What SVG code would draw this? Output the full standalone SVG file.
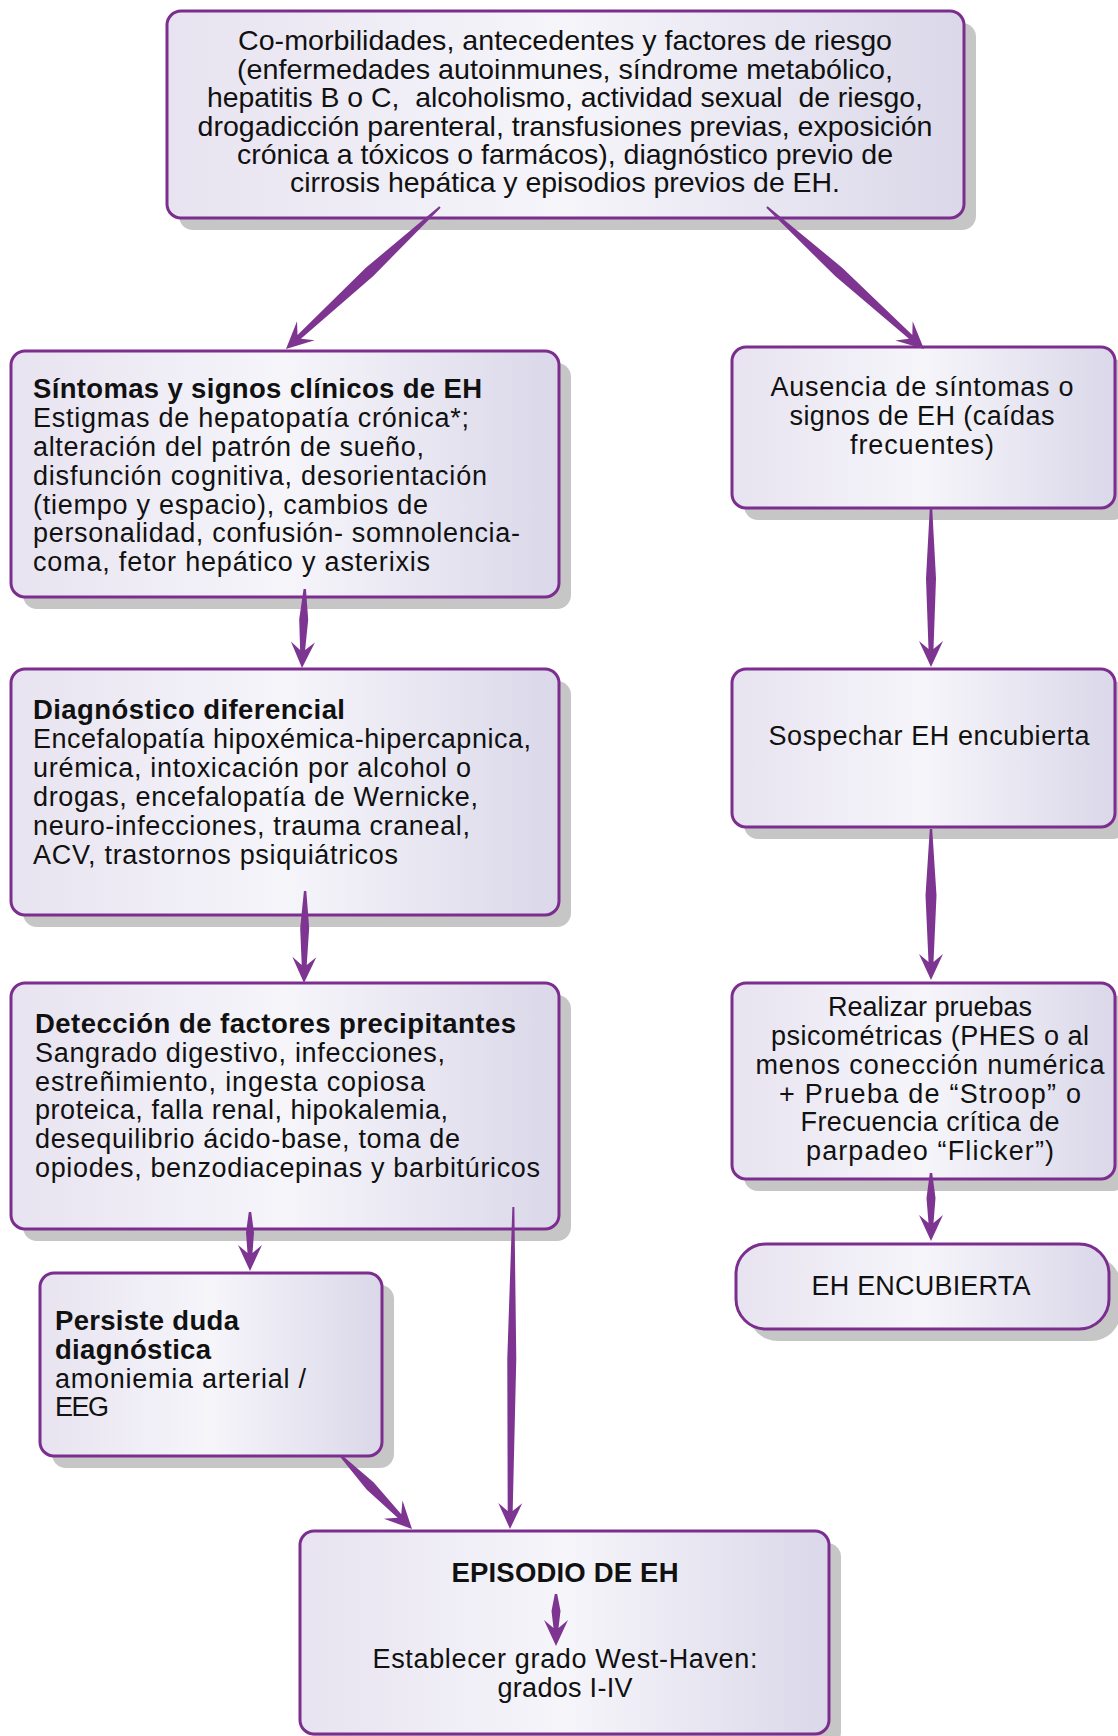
<svg xmlns="http://www.w3.org/2000/svg" width="1118" height="1736" viewBox="0 0 1118 1736">
<defs>
<linearGradient id="g" x1="0" y1="0" x2="1" y2="0">
<stop offset="0" stop-color="#E7E3F0"/>
<stop offset="0.5" stop-color="#F6F5FA"/>
<stop offset="1" stop-color="#DAD8E9"/>
</linearGradient>
<style>
.sh{fill:#C6C6C6}
.box{fill:url(#g);stroke:#7B2E8E;stroke-width:3}
.t{font-family:"Liberation Sans",Arial,sans-serif;font-size:27px;fill:#111}
.c{text-anchor:middle}
.b{font-weight:bold;font-size:27.5px}
.arr{fill:#7E3591}
</style>
</defs>
<rect width="1118" height="1736" fill="#fff"/>

<g id="n1">
<rect class="sh" x="179" y="23" width="797" height="207" rx="14"/>
<rect class="box" x="167" y="11" width="797" height="207" rx="14"/>
<g class="t c" style="font-size:28px">
<text x="565" y="50" textLength="654" lengthAdjust="spacingAndGlyphs">Co-morbilidades, antecedentes y factores de riesgo</text>
<text x="565" y="78.5" textLength="656" lengthAdjust="spacingAndGlyphs">(enfermedades autoinmunes, síndrome metabólico,</text>
<text x="565" y="107" textLength="716" lengthAdjust="spacingAndGlyphs" xml:space="preserve">hepatitis B o C,  alcoholismo, actividad sexual  de riesgo,</text>
<text x="565" y="135.5" textLength="735" lengthAdjust="spacingAndGlyphs">drogadicción parenteral, transfusiones previas, exposición</text>
<text x="565" y="164" textLength="656" lengthAdjust="spacingAndGlyphs">crónica a tóxicos o farmácos), diagnóstico previo de</text>
<text x="565" y="192" textLength="550" lengthAdjust="spacingAndGlyphs">cirrosis hepática y episodios previos de EH.</text>
</g>
</g>

<g id="n2">
<rect class="sh" x="23" y="363" width="548" height="246" rx="14"/>
<rect class="box" x="11" y="351" width="548" height="246" rx="14"/>
<g class="t">
<text x="33" y="398" class="b" textLength="449">Síntomas y signos clínicos de EH</text>
<text x="33" y="427" textLength="436">Estigmas de hepatopatía crónica*;</text>
<text x="33" y="456" textLength="391">alteración del patrón de sueño,</text>
<text x="33" y="485" textLength="454">disfunción cognitiva, desorientación</text>
<text x="33" y="513.5" textLength="395">(tiempo y espacio), cambios de</text>
<text x="33" y="542" textLength="487">personalidad, confusión- somnolencia-</text>
<text x="33" y="570.5" textLength="397">coma, fetor hepático y asterixis</text>
</g>
</g>

<g id="n3">
<rect class="sh" x="744" y="359" width="383" height="161" rx="14"/>
<rect class="box" x="732" y="347" width="383" height="161" rx="14"/>
<g class="t c">
<text x="922" y="396" textLength="303">Ausencia de síntomas o</text>
<text x="922" y="425" textLength="265">signos de EH (caídas</text>
<text x="922" y="454" textLength="144">frecuentes)</text>
</g>
</g>

<g id="n4">
<rect class="sh" x="23" y="681" width="548" height="246" rx="14"/>
<rect class="box" x="11" y="669" width="548" height="246" rx="14"/>
<g class="t">
<text x="33" y="719" class="b" textLength="312">Diagnóstico diferencial</text>
<text x="33" y="748" textLength="498">Encefalopatía hipoxémica-hipercapnica,</text>
<text x="33" y="777" textLength="438">urémica, intoxicación por alcohol o</text>
<text x="33" y="806" textLength="445">drogas, encefalopatía de Wernicke,</text>
<text x="33" y="835" textLength="437">neuro-infecciones, trauma craneal,</text>
<text x="33" y="863.5" textLength="365">ACV, trastornos psiquiátricos</text>
</g>
</g>

<g id="n5">
<rect class="sh" x="744" y="681" width="383" height="158" rx="14"/>
<rect class="box" x="732" y="669" width="383" height="158" rx="14"/>
<text class="t c" x="929" y="745" textLength="321">Sospechar EH encubierta</text>
</g>

<g id="n6">
<rect class="sh" x="23" y="995" width="548" height="246" rx="14"/>
<rect class="box" x="11" y="983" width="548" height="246" rx="14"/>
<g class="t">
<text x="35" y="1033" class="b" textLength="481">Detección de factores precipitantes</text>
<text x="35" y="1062" textLength="410">Sangrado digestivo, infecciones,</text>
<text x="35" y="1090.5" textLength="390">estreñimiento, ingesta copiosa</text>
<text x="35" y="1119" textLength="413">proteica, falla renal, hipokalemia,</text>
<text x="35" y="1148" textLength="425">desequilibrio ácido-base, toma de</text>
<text x="35" y="1176.5" textLength="505">opiodes, benzodiacepinas y barbitúricos</text>
</g>
</g>

<g id="n7">
<rect class="sh" x="744" y="995" width="383" height="196" rx="14"/>
<rect class="box" x="732" y="983" width="383" height="196" rx="14"/>
<g class="t c">
<text x="930" y="1016">Realizar pruebas</text>
<text x="930" y="1045" textLength="318">psicométricas (PHES o al</text>
<text x="930" y="1074" textLength="349">menos conección numérica</text>
<text x="930" y="1103" textLength="302">+ Prueba de “Stroop” o</text>
<text x="930" y="1131" textLength="259">Frecuencia crítica de</text>
<text x="930" y="1160" textLength="248">parpadeo “Flicker”)</text>
</g>
</g>

<g id="n8">
<rect class="sh" x="748" y="1256" width="373" height="85" rx="30"/>
<rect class="box" x="736" y="1244" width="373" height="85" rx="30"/>
<text class="t c" x="921" y="1295" textLength="219">EH ENCUBIERTA</text>
</g>

<g id="n9">
<rect class="sh" x="52" y="1285" width="342" height="183" rx="14"/>
<rect class="box" x="40" y="1273" width="342" height="183" rx="14"/>
<g class="t">
<text x="55" y="1330" class="b" textLength="184">Persiste duda</text>
<text x="55" y="1359" class="b" textLength="156">diagnóstica</text>
<text x="55" y="1388" textLength="251">amoniemia arterial /</text>
<text x="55" y="1416" textLength="54">EEG</text>
</g>
</g>

<g id="n10">
<rect class="sh" x="312" y="1543" width="529" height="203" rx="14"/>
<rect class="box" x="300" y="1531" width="529" height="203" rx="14"/>
<g class="t c">
<text x="565" y="1582" class="b" textLength="227">EPISODIO DE EH</text>
<text x="565" y="1668" textLength="385">Establecer grado West-Haven:</text>
<text x="565" y="1697" textLength="135">grados I-IV</text>
</g>
</g>

<g id="connectors">
<path class="arr" transform="translate(286,349) rotate(137.3)" d="M-209.5,-1 L-113.75,-5.5 L-18,-2.5 L-27,-13 L0,0 L-27,13 L-18,2.5 L-113.75,5.5 L-209.5,1 Z"/>
<path class="arr" transform="translate(924,349) rotate(42.1)" d="M-211.7,-1 L-114.85,-5.5 L-18,-2.5 L-27,-13 L0,0 L-27,13 L-18,2.5 L-114.85,5.5 L-211.7,1 Z"/>
<path class="arr" transform="translate(302,668) rotate(92)" d="M-79,-1.2 L-48.5,-4.5 L-18,-2.5 L-26,-12 L0,0 L-26,12 L-18,2.5 L-48.5,4.5 L-79,1.2 Z"/>
<path class="arr" transform="translate(304,983) rotate(90.7)" d="M-92,-1.2 L-55,-4.5 L-18,-2.5 L-26,-12 L0,0 L-26,12 L-18,2.5 L-55,4.5 L-92,1.2 Z"/>
<path class="arr" transform="translate(931,667) rotate(90)" d="M-159,-1.2 L-88.5,-5 L-18,-2.5 L-26,-12 L0,0 L-26,12 L-18,2.5 L-88.5,5 L-159,1.2 Z"/>
<path class="arr" transform="translate(931,980) rotate(90)" d="M-151,-1.2 L-84.5,-5.5 L-18,-2.5 L-26,-12 L0,0 L-26,12 L-18,2.5 L-84.5,5.5 L-151,1.2 Z"/>
<path class="arr" transform="translate(931,1241) rotate(90)" d="M-68,-1.2 L-43,-4.5 L-18,-2.5 L-26,-12 L0,0 L-26,12 L-18,2.5 L-43,4.5 L-68,1.2 Z"/>
<path class="arr" transform="translate(250,1271) rotate(90)" d="M-59,-1.2 L-38.5,-4 L-18,-2.5 L-26,-12 L0,0 L-26,12 L-18,2.5 L-38.5,4 L-59,1.2 Z"/>
<path class="arr" transform="translate(510,1529) rotate(90.6)" d="M-322,-1 L-170,-4.5 L-18,-2.5 L-26,-12 L0,0 L-26,12 L-18,2.5 L-170,4.5 L-322,1 Z"/>
<path class="arr" transform="translate(412,1529) rotate(45.8)" d="M-102,-1.2 L-60,-5 L-18,-2.5 L-27,-13 L0,0 L-27,13 L-18,2.5 L-60,5 L-102,1.2 Z"/>
<path class="arr" transform="translate(556,1646) rotate(90)" d="M-52,-1.2 L-35,-4.5 L-18,-2.5 L-26,-12 L0,0 L-26,12 L-18,2.5 L-35,4.5 L-52,1.2 Z"/>
</g>
</svg>
